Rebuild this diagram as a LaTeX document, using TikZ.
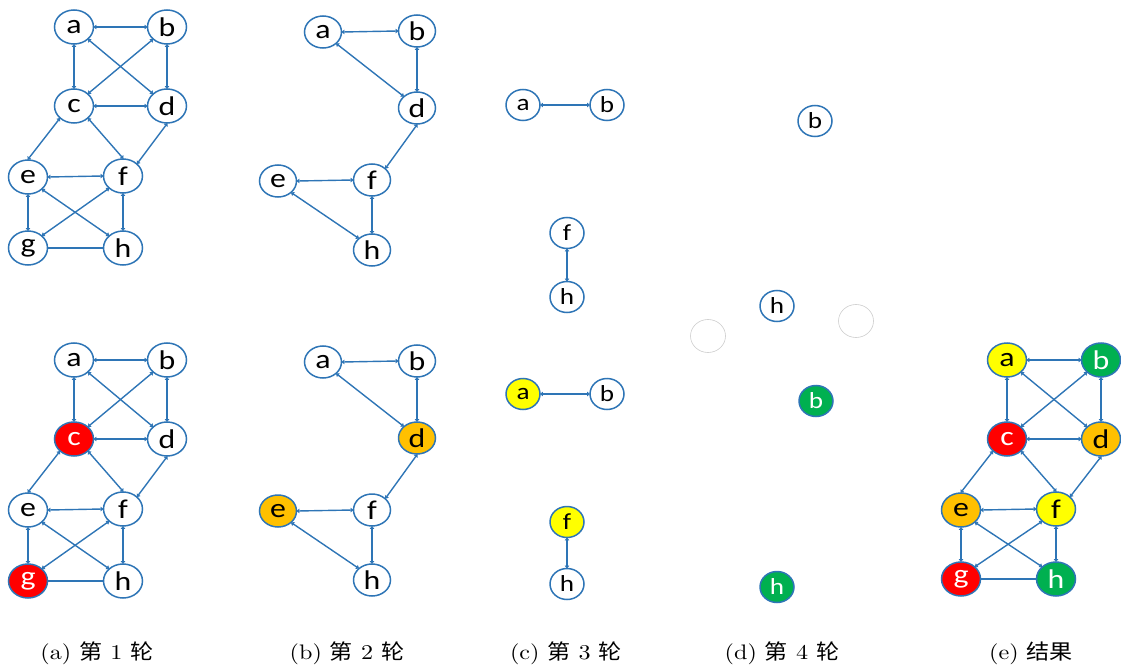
\documentclass[tikz,border=0pt]{standalone}
\usepackage{fontspec}
\newfontfamily\cjk[FakeStretch=1.1]{Noto Sans CJK SC}
\newfontfamily\capfont{lmroman10-regular}[Extension=.otf, FakeStretch=1.15]
\newfontfamily\nodefont[FakeStretch=1.18]{Carlito}
\usetikzlibrary{arrows.meta,shapes.geometric}
\definecolor{eblue}{RGB}{46,117,182}
\definecolor{nred}{RGB}{255,0,0}
\definecolor{nyel}{RGB}{255,255,0}
\definecolor{norg}{RGB}{255,192,0}
\definecolor{ngrn}{RGB}{0,176,80}
\definecolor{ghost}{RGB}{205,205,205}
\tikzset{
  vtx/.style={ellipse, draw=eblue, line width=1.5pt, minimum width=39pt, minimum height=34pt, inner sep=0pt, fill=white,
    font=\nodefont\fontsize{27}{27}\selectfont},
  mvtx/.style={vtx, minimum width=37pt, minimum height=32pt},
  svtx/.style={vtx, minimum width=34pt, minimum height=31pt, font=\nodefont\fontsize{23}{23}\selectfont},
  cred/.style={fill=nred, text=white},
  cyel/.style={fill=nyel},
  corg/.style={fill=norg},
  cgrn/.style={fill=ngrn, text=white},
  ghostv/.style={ellipse, draw=ghost, line width=0.6pt, minimum width=35pt, minimum height=33pt, inner sep=0pt},
  tip/.tip={Triangle[length=3pt,width=4.5pt]},
  edge/.style={draw=eblue, line width=1.4pt, tip-tip, shorten <=-0.8pt, shorten >=-0.8pt},
  plainedge/.style={draw=eblue, line width=1.4pt},
  captext/.style={font=\capfont\fontsize{21}{21}\selectfont, anchor=center}
}
\begin{document}
\begin{tikzpicture}[x=1pt,y=-1pt]
\useasboundingbox (0,0) rectangle (1121,671);

% ---------- (a) top ----------
\begin{scope}
\node[vtx] (a1a) at (74,27) {a};
\node[vtx] (a1b) at (167,27) {b};
\node[vtx] (a1c) at (74,106) {c};
\node[vtx] (a1d) at (167,106) {d};
\node[vtx] (a1e) at (28,177) {e};
\node[vtx] (a1f) at (123,176) {f};
\node[vtx] (a1g) at (28,248) {g};
\node[vtx] (a1h) at (123,248) {h};
\draw[edge] (a1a.east) -- (a1b.west);
\draw[edge] (a1a.south) -- (a1c.north);
\draw[edge] (a1a.south east) -- (a1d.north west);
\draw[edge] (a1b.south west) -- (a1c.north east);
\draw[edge] (a1b.south) -- (a1d.north);
\draw[edge] (a1c.east) -- (a1d.west);
\draw[edge] (a1c.south west) -- (a1e.north);
\draw[edge] (a1c.south east) -- (a1f.north);
\draw[edge] (a1d.south) -- (a1f.north east);
\draw[edge] (a1e.east) -- (a1f.west);
\draw[edge] (a1e.south) -- (a1g.north);
\draw[edge] (a1e.south east) -- (a1h.north west);
\draw[edge] (a1f.south west) -- (a1g.north east);
\draw[edge] (a1f.south) -- (a1h.north);
\draw[plainedge] (a1g.east) -- (a1h.west);
\end{scope}

% ---------- (a) bottom ----------
\begin{scope}[shift={(0,333)}]
\node[vtx] (a2a) at (74,27) {a};
\node[vtx] (a2b) at (167,27) {b};
\node[vtx,cred] (a2c) at (74,106) {c};
\node[vtx] (a2d) at (167,106) {d};
\node[vtx] (a2e) at (28,177) {e};
\node[vtx] (a2f) at (123,176) {f};
\node[vtx,cred] (a2g) at (28,248) {g};
\node[vtx] (a2h) at (123,248) {h};
\draw[edge] (a2a.east) -- (a2b.west);
\draw[edge] (a2a.south) -- (a2c.north);
\draw[edge] (a2a.south east) -- (a2d.north west);
\draw[edge] (a2b.south west) -- (a2c.north east);
\draw[edge] (a2b.south) -- (a2d.north);
\draw[edge] (a2c.east) -- (a2d.west);
\draw[edge] (a2c.south west) -- (a2e.north);
\draw[edge] (a2c.south east) -- (a2f.north);
\draw[edge] (a2d.south) -- (a2f.north east);
\draw[edge] (a2e.east) -- (a2f.west);
\draw[edge] (a2e.south) -- (a2g.north);
\draw[edge] (a2e.south east) -- (a2h.north west);
\draw[edge] (a2f.south west) -- (a2g.north east);
\draw[edge] (a2f.south) -- (a2h.north);
\draw[plainedge] (a2g.east) -- (a2h.west);
\end{scope}

% ---------- (b) top ----------
\begin{scope}
\node[mvtx] (b1a) at (323,32) {a};
\node[mvtx] (b1b) at (417,31) {b};
\node[mvtx] (b1d) at (417,108) {d};
\node[mvtx] (b1e) at (278,181) {e};
\node[mvtx] (b1f) at (372,180) {f};
\node[mvtx] (b1h) at (372,250) {h};
\draw[edge] (b1a.east) -- (b1b.west);
\draw[edge] (b1a.south east) -- (b1d.north west);
\draw[edge] (b1b.south) -- (b1d.north);
\draw[edge] (b1d.south) -- (b1f.north east);
\draw[edge] (b1e.east) -- (b1f.west);
\draw[edge] (b1e.south east) -- (b1h.north west);
\draw[edge] (b1f.south) -- (b1h.north);
\end{scope}

% ---------- (b) bottom ----------
\begin{scope}[shift={(0,330)}]
\node[mvtx] (b2a) at (323,32) {a};
\node[mvtx] (b2b) at (417,31) {b};
\node[mvtx,corg] (b2d) at (417,108) {d};
\node[mvtx,corg] (b2e) at (278,181) {e};
\node[mvtx] (b2f) at (372,180) {f};
\node[mvtx] (b2h) at (372,250) {h};
\draw[edge] (b2a.east) -- (b2b.west);
\draw[edge] (b2a.south east) -- (b2d.north west);
\draw[edge] (b2b.south) -- (b2d.north);
\draw[edge] (b2d.south) -- (b2f.north east);
\draw[edge] (b2e.east) -- (b2f.west);
\draw[edge] (b2e.south east) -- (b2h.north west);
\draw[edge] (b2f.south) -- (b2h.north);
\end{scope}

% ---------- (c) ----------
\node[svtx] (c1a) at (523,105) {a};
\node[svtx] (c1b) at (607,105) {b};
\node[svtx] (c1f) at (567,233) {f};
\node[svtx] (c1h) at (567,297) {h};
\draw[edge] (c1a.east) -- (c1b.west);
\draw[edge] (c1f.south) -- (c1h.north);

\node[svtx,cyel] (c2a) at (523,394) {a};
\node[svtx] (c2b) at (607,394) {b};
\node[svtx,cyel] (c2f) at (567,522) {f};
\node[svtx] (c2h) at (567,584) {h};
\draw[edge] (c2a.east) -- (c2b.west);
\draw[edge] (c2f.south) -- (c2h.north);

% ---------- (d) ----------
\node[svtx] (d1b) at (815,121) {b};
\node[svtx] (d1h) at (777,306) {h};
\node[ghostv] (d1x) at (708,336) {};
\node[ghostv] (d1y) at (856,321) {};

\node[svtx,cgrn] (d2b) at (816,401) {b};
\node[svtx,cgrn] (d2h) at (777,587) {h};

% ---------- (e) ----------
\begin{scope}[shift={(933,333)}]
\node[vtx,cyel] (e2a) at (74,27) {a};
\node[vtx,cgrn] (e2b) at (168,27) {b};
\node[vtx,cred] (e2c) at (74,106) {c};
\node[vtx,corg] (e2d) at (168,106) {d};
\node[vtx,corg] (e2e) at (28,177) {e};
\node[vtx,cyel] (e2f) at (123,176) {f};
\node[vtx,cred] (e2g) at (28,246) {g};
\node[vtx,cgrn] (e2h) at (123,246) {h};
\draw[edge] (e2a.east) -- (e2b.west);
\draw[edge] (e2a.south) -- (e2c.north);
\draw[edge] (e2a.south east) -- (e2d.north west);
\draw[edge] (e2b.south west) -- (e2c.north east);
\draw[edge] (e2b.south) -- (e2d.north);
\draw[edge] (e2c.east) -- (e2d.west);
\draw[edge] (e2c.south west) -- (e2e.north);
\draw[edge] (e2c.south east) -- (e2f.north);
\draw[edge] (e2d.south) -- (e2f.north east);
\draw[edge] (e2e.east) -- (e2f.west);
\draw[edge] (e2e.south) -- (e2g.north);
\draw[edge] (e2e.south east) -- (e2h.north west);
\draw[edge] (e2f.south west) -- (e2g.north east);
\draw[edge] (e2f.south) -- (e2h.north);
\draw[plainedge] (e2g.east) -- (e2h.west);
\end{scope}

% ---------- captions ----------
\node[captext] (capa) at (97,653) {(a) {\cjk 第} 1 {\cjk 轮}};
\node[captext] (capb) at (347,653) {(b) {\cjk 第} 2 {\cjk 轮}};
\node[captext] (capc) at (566,653) {(c) {\cjk 第} 3 {\cjk 轮}};
\node[captext] (capd) at (782,653) {(d) {\cjk 第} 4 {\cjk 轮}};
\node[captext] (cape) at (1031,653) {(e) {\cjk 结果}};
\end{tikzpicture}
\end{document}
